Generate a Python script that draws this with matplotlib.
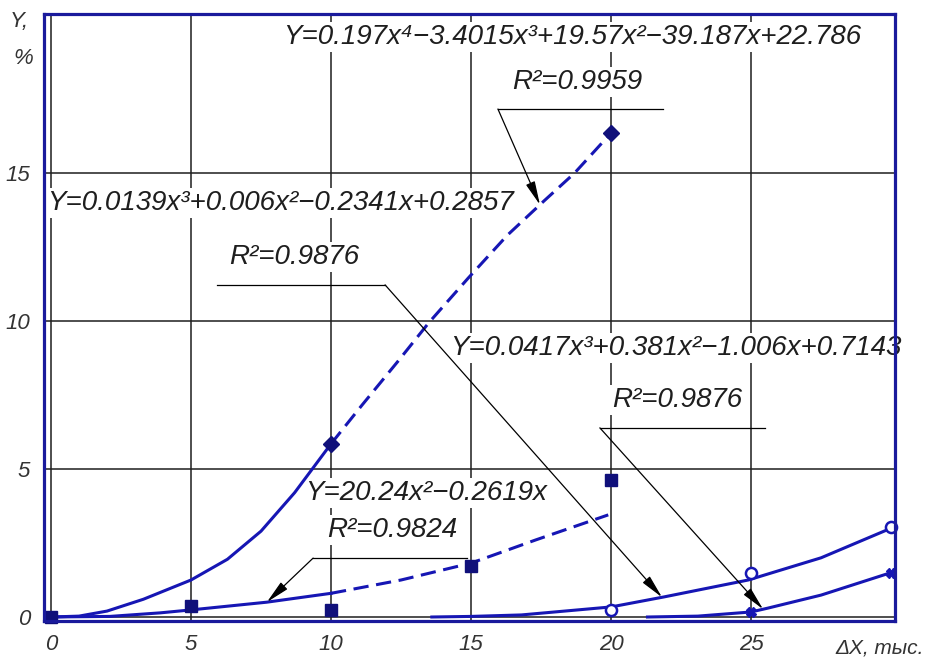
import numpy as np
import matplotlib
matplotlib.use("Agg")
import matplotlib.pyplot as plt

plt.rcParams['font.family'] = ['Liberation Sans', 'DejaVu Sans']
plt.rcParams['font.style'] = 'italic'

# trend curves (x in thousands, y in %)
a_x = [0, 1, 2, 3.3, 5, 6.3, 7.5, 8.7, 10, 11.1, 12.4, 13.5, 14.9, 16.3, 17.6, 18.7, 20]
a_y = [0, 0.03, 0.2, 0.6, 1.25, 1.95, 2.9, 4.2, 5.85, 7.15, 8.65, 9.95, 11.45, 12.9, 14.05, 15.0, 16.35]
b_x = [0, 2.1, 3.9, 5, 7.7, 10, 12.5, 15, 17.3, 19.9]
b_y = [0, 0.02, 0.14, 0.24, 0.5, 0.8, 1.25, 1.82, 2.6, 3.45]
c_x = [13.6, 15, 16.8, 20, 21.9, 24.9, 27.5, 30]
c_y = [0, 0.02, 0.07, 0.34, 0.68, 1.25, 2.0, 3.0]
d_x = [21.3, 23.1, 25, 25.6, 27.5, 30]
d_y = [0, 0.03, 0.17, 0.3, 0.74, 1.5]

# measured points
dia_x = [10, 20]
dia_y = [5.85, 16.35]
sq_x = [0, 5, 10, 15, 20]
sq_y = [0, 0.36, 0.22, 1.72, 4.63]
circ_x = [20, 25, 30]
circ_y = [0.24, 1.5, 3.05]
star_x = [25, 30]
star_y = [0.17, 1.5]

xticks = [0, 5, 10, 15, 20, 25]
yticks = [0, 5, 10, 15]

eq_a = "Y=0.197x⁴−3.4015x³+19.57x²−39.187x+22.786"
r2_a = "R²=0.9959"
eq_b = "Y=20.24x²−0.2619x"
r2_b = "R²=0.9824"
eq_c = "Y=0.0139x³+0.006x²−0.2341x+0.2857"
r2_c = "R²=0.9876"
eq_d = "Y=0.0417x³+0.381x²−1.006x+0.7143"
r2_d = "R²=0.9876"

blue = '#1616b4'
ink = '#1e1e1e'

fig = plt.figure(figsize=(9.28, 6.59), dpi=100)
ax = fig.add_axes([44/928, 1-621/659, 851/928, 607/659])
ax.set_xlim(-0.25, 30.14)
ax.set_ylim(-0.135, 20.37)

ax.set_xticks(xticks)
ax.set_yticks(yticks)
ax.grid(True, color=ink, lw=1.1)
ax.set_axisbelow(True)
ax.tick_params(length=0, labelsize=16, colors='#333333')
ax.tick_params(axis='x', pad=9)
ax.tick_params(axis='y', pad=10)
for s in ax.spines.values():
    s.set_color('#1a1a9c')
    s.set_linewidth(2.3)
    s.set_zorder(5)

dash = (0, (5, 2.5))
sa = a_x.index(10)
ax.plot(a_x[:sa+1], a_y[:sa+1], color=blue, lw=2.2, zorder=3)
ax.plot(a_x[sa:], a_y[sa:], color=blue, lw=2.2, ls=dash, zorder=3)
sb = b_x.index(10)
ax.plot(b_x[:sb+1], b_y[:sb+1], color=blue, lw=2.2, zorder=3)
ax.plot(b_x[sb:], b_y[sb:], color=blue, lw=2.2, ls=dash, zorder=3)
ax.plot(c_x, c_y, color=blue, lw=2.2, zorder=3)
ax.plot(d_x, d_y, color=blue, lw=2.2, zorder=3)

ax.plot(dia_x, dia_y, 'D', color='#10107a', ms=8, zorder=4, clip_on=False)
ax.plot(sq_x, sq_y, 's', color='#10107a', ms=9, zorder=4, clip_on=False)
ax.plot(circ_x, circ_y, 'o', mfc='white', mec=blue, mew=1.8, ms=8, zorder=4, clip_on=False)
ax.plot(star_x, star_y, 'X', color=blue, ms=7, zorder=4, clip_on=False)

# equation labels on white plates
box = dict(facecolor='white', edgecolor='none', pad=1.5)
for txt, x, y in [(eq_a, 18.6, 19.6), (r2_a, 18.8, 18.07),
                  (eq_c, 8.2, 14.0), (r2_c, 8.7, 12.16),
                  (eq_d, 22.3, 9.09), (r2_d, 22.36, 7.33),
                  (eq_b, 13.4, 4.19), (r2_b, 12.2, 2.94)]:
    ax.text(x, y, txt, fontsize=20, color=ink, ha='center', va='center',
            bbox=box, zorder=2)

# leader lines: shelf + arrow to its curve
arrow = dict(arrowstyle='-|>,head_length=0.9,head_width=0.18', color='k',
             lw=0.9, mutation_scale=16, shrinkA=0, shrinkB=0)
leaders = [((15.96, 21.86, 17.16), a_x, a_y, 17.46, 'l'),
           ((5.93, 11.93, 11.22), c_x, c_y, 21.82, 'r'),
           ((19.6, 25.5, 6.39), d_x, d_y, 25.43, 'l'),
           ((9.36, 14.86, 1.99), b_x, b_y, 7.71, 'l')]
for (x1, x2, y), cx, cy, tx, side in leaders:
    ax.plot([x1, x2], [y, y], color='k', lw=0.9, zorder=3)
    sx = x1 if side == 'l' else x2
    ty = np.interp(tx, cx, cy)
    ax.annotate('', xy=(tx, ty), xytext=(sx, y), arrowprops=arrow, zorder=3)

fig.text(19/928, 1-22/659, 'Y,', fontsize=16, color='#333333', ha='center', va='center')
fig.text(23/928, 1-59/659, '%', fontsize=16, color='#333333', ha='center', va='center')
fig.text(924/928, 1-648/659, 'ΔX, тыс.', fontsize=15, color='#333333', ha='right', va='center')

fig.savefig('out.png', dpi=100)
